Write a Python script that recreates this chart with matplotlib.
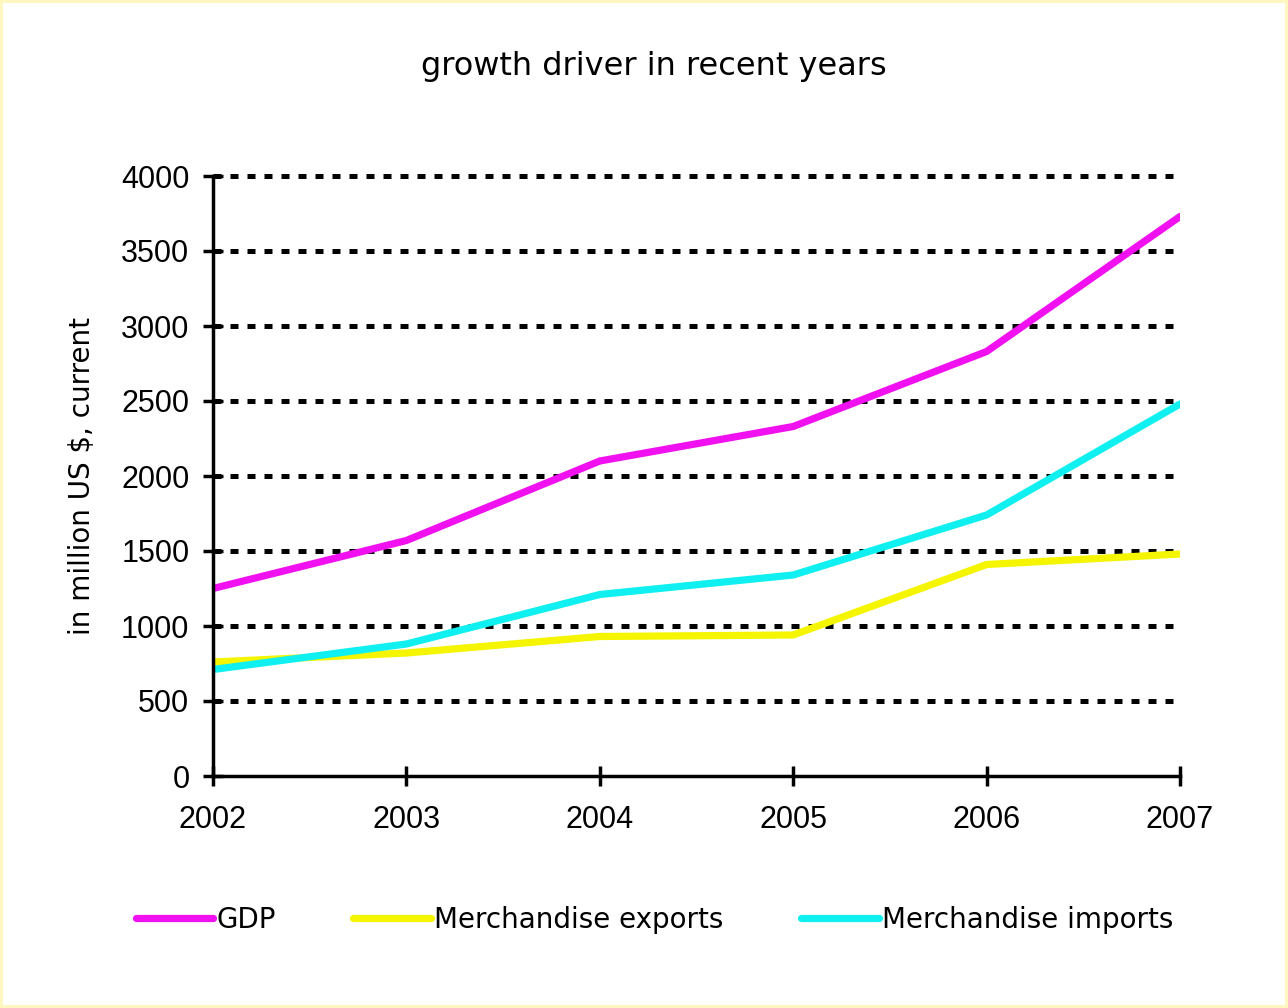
import matplotlib.pyplot as plt

years = [2002, 2003, 2004, 2005, 2006, 2007]
gdp = [1250, 1570, 2100, 2330, 2830, 3730]
exports = [760, 820, 930, 940, 1410, 1480]
imports = [710, 880, 1210, 1340, 1740, 2480]

y_ticks = [0, 500, 1000, 1500, 2000, 2500, 3000, 3500, 4000]

regular = 'Liberation Sans'
plt.rcParams['font.family'] = 'DejaVu Sans'

fig = plt.figure(figsize=(12.88, 10.08), dpi=100)
fig.patch.set_edgecolor('#fff6c0')
fig.patch.set_linewidth(3)
ax = fig.add_axes([213 / 1288, 1 - 776 / 1008, (1180 - 213) / 1288, 600 / 1008])

ax.plot(years, gdp, color='#f010f0', lw=5.2, label='GDP', solid_capstyle='round')
ax.plot(years, exports, color='#f5f500', lw=5.2, label='Merchandise exports', solid_capstyle='round')
ax.plot(years, imports, color='#10f0f0', lw=5.2, label='Merchandise imports', solid_capstyle='round')

ax.set_xlim(2002, 2007)
ax.set_ylim(0, 4000)
ax.set_xticks(years)
ax.set_yticks(y_ticks)
ax.tick_params(direction='inout', length=14, width=2.5, labelsize=22)
ax.tick_params(axis='x', pad=14)
ax.tick_params(axis='y', pad=10)
for lab in ax.get_xticklabels() + ax.get_yticklabels():
    lab.set_family(regular)

for y in y_ticks[1:]:
    ax.axhline(y, color='black', lw=3.6, ls=(0, (1.6, 1.8)), zorder=0, clip_on=False)

for s in ['top', 'right']:
    ax.spines[s].set_visible(False)
for s in ['left', 'bottom']:
    ax.spines[s].set_linewidth(2.5)

ax.set_ylabel('in million US $, current', fontsize=20, labelpad=18)
fig.text(0.508, 1 - 67 / 1008, 'growth driver in recent years',
         fontsize=23, ha='center', va='center')

fig.legend(loc='center', bbox_to_anchor=(0.508, 1 - 920 / 1008), ncol=3, frameon=False,
           prop={'size': 20}, handlelength=2.8, handletextpad=0.1,
           columnspacing=2.8)

fig.savefig('out.png', dpi=100)
